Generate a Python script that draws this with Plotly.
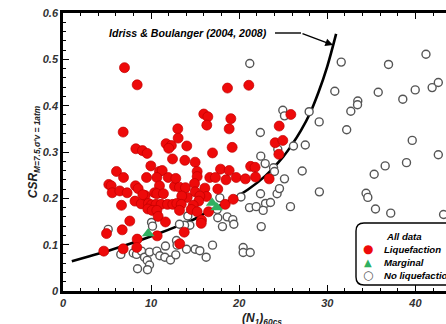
import plotly.graph_objects as go

# ---------------- data ----------------
liq_x = [6.98, 8.42, 6.83, 8.27, 9.02, 9.55, 11.7, 12.3, 12.0, 13.03, 13.07, 12.43, 9.97, 6.07, 10.95, 11.26,
         18.67, 21.09, 15.98, 16.44, 16.32, 19.05, 18.86, 14.05, 19.2, 16.97, 13.83, 15.0, 15.23, 17.88, 18.86,
         21.3, 21.8, 25.86, 24.54, 24.08, 24.95, 24.5,
         6.87, 5.2, 5.47, 5.58, 6.45, 7.28, 8.23, 8.53, 8.17, 8.88, 9.33, 9.06, 9.48, 10.65, 11.94, 12.66, 10.95,
         10.39, 10.65, 11.4, 9.7, 10.05, 9.63, 10.57, 11.14, 11.86, 12.46, 10.12, 10.65, 10.8, 6.64, 7.58, 11.63,
         4.94, 6.72, 8.42, 10.69, 4.63, 6.83, 8.38,
         12.8, 15.23, 16.66, 17.3, 18.5, 19.66, 20.7, 21.85, 23.4, 13.22, 13.9, 14.93, 16.1, 17.57, 15.0, 16.29,
         15.53, 14.1, 13.48, 15.41, 12.92, 13.42, 14.78, 14.55, 15.23, 13.22, 16.52, 15.72, 15.69, 18.41, 19.32,
         13.76, 13.25]
liq_y = [0.482, 0.445, 0.343, 0.307, 0.303, 0.297, 0.318, 0.314, 0.308, 0.350, 0.330, 0.285, 0.270, 0.258, 0.258, 0.260,
         0.438, 0.444, 0.382, 0.376, 0.358, 0.372, 0.350, 0.313, 0.310, 0.298, 0.282, 0.278, 0.258, 0.263, 0.260,
         0.269, 0.267, 0.381, 0.356, 0.320, 0.325, 0.295,
         0.245, 0.230, 0.227, 0.212, 0.216, 0.212, 0.227, 0.221, 0.194, 0.188, 0.206, 0.208, 0.245, 0.245, 0.245, 0.226, 0.227,
         0.212, 0.210, 0.210, 0.189, 0.186, 0.177, 0.187, 0.187, 0.187, 0.187, 0.174, 0.174, 0.161, 0.185, 0.151, 0.149,
         0.124, 0.132, 0.112, 0.119, 0.086, 0.091, 0.094,
         0.243, 0.247, 0.245, 0.245, 0.240, 0.245, 0.242, 0.246, 0.242, 0.224, 0.223, 0.232, 0.222, 0.220, 0.214, 0.204,
         0.205, 0.202, 0.205, 0.194, 0.189, 0.187, 0.185, 0.176, 0.171, 0.174, 0.171, 0.153, 0.146, 0.187, 0.198,
         0.127, 0.102]

marg_x = [9.67, 16.93, 17.46]
marg_y = [0.124, 0.190, 0.180]

noliq_x = [21.2, 22.4, 24.95, 25.14, 24.38, 22.45, 22.95, 23.9, 24.0, 27.94, 26.16, 27.5,
           31.58, 36.95, 41.2, 30.85, 35.78, 33.46, 33.43, 32.67, 38.57, 39.98, 41.9, 42.6, 29.08, 32.2, 39.64,
           42.6, 27.15, 36.57, 38.99, 35.32, 29.1, 34.4, 34.6, 35.47, 37.2, 43.2,
           10.05, 10.16, 5.13, 6.56, 7.97, 8.34, 8.91, 9.25, 9.82, 10.65, 11.63, 10.99, 11.56, 12.2, 12.88, 12.8,
           9.56, 9.82, 8.46, 9.59,
           17.8, 17.5, 17.57, 18.64, 19.27, 19.39, 18.1, 20.2, 22.42, 22.99, 23.55, 21.17, 21.93, 22.72, 24.3, 24.57,
           22.5, 25.82, 25.14, 14.17, 14.4, 13.8, 13.22, 16.97, 15.0, 15.53, 16.25, 14.02, 12.95, 20.45, 20.45, 21.25]
noliq_y = [0.491, 0.342, 0.390, 0.378, 0.306, 0.291, 0.275, 0.266, 0.258, 0.387, 0.313, 0.315,
           0.494, 0.489, 0.511, 0.431, 0.429, 0.410, 0.402, 0.388, 0.414, 0.434, 0.439, 0.450, 0.365, 0.348, 0.325,
           0.294, 0.259, 0.270, 0.277, 0.252, 0.214, 0.211, 0.202, 0.177, 0.168, 0.165,
           0.148, 0.140, 0.133, 0.079, 0.082, 0.079, 0.086, 0.073, 0.084, 0.086, 0.097, 0.076, 0.073, 0.067, 0.109, 0.078,
           0.066, 0.056, 0.048, 0.046,
           0.201, 0.176, 0.158, 0.160, 0.154, 0.144, 0.139, 0.203, 0.210, 0.189, 0.191, 0.180, 0.182, 0.174, 0.210, 0.221,
           0.139, 0.182, 0.242, 0.162, 0.142, 0.142, 0.144, 0.099, 0.090, 0.087, 0.073, 0.090, 0.099, 0.094, 0.083, 0.083]

curve_n = [1, 3, 5, 7, 9, 11, 13, 15, 17, 19, 21, 23, 25, 26, 27, 28, 29, 30, 31]
curve_csr = [0.064, 0.075, 0.086, 0.098, 0.111, 0.125, 0.140, 0.156, 0.177, 0.196, 0.219, 0.249, 0.290,
             0.316, 0.346, 0.382, 0.429, 0.485, 0.555]

x_ticks = [0, 10, 20, 30, 40]
y_ticks = [0, 0.1, 0.2, 0.3, 0.4, 0.5, 0.6]
y_tick_text = ["0", "0.1", "0.2", "0.3", "0.4", "0.5", "0.6"]

# ---------------- figure ----------------
W, H = 446, 324
L, R, T, B = 63, 0, 13, 33
FONT = "Liberation Sans, Arial, sans-serif"
pw, ph = W - L - R, H - T - B


def fx(px):
    return (px - L) / pw


def fy(py):
    return (H - B - py) / ph


fig = go.Figure()
fig.add_trace(go.Scatter(x=curve_n, y=curve_csr, mode="lines", line=dict(color="black", width=2.6, shape="spline"),
                         hoverinfo="skip", showlegend=False))
fig.add_trace(go.Scatter(x=noliq_x, y=noliq_y, mode="markers", name="No liquefaction",
                         marker=dict(symbol="circle", size=8, color="white", line=dict(color="#555555", width=1.4))))
fig.add_trace(go.Scatter(x=liq_x, y=liq_y, mode="markers", name="Liquefaction",
                         marker=dict(symbol="circle", size=10, color="#ee0a0a", line=dict(color="#c00000", width=0.7))))
fig.add_trace(go.Scatter(x=marg_x, y=marg_y, mode="markers", name="Marginal",
                         marker=dict(symbol="triangle-up", size=11, color="#2fb060", line=dict(width=0))))

tickfont = dict(family=FONT, size=11, color="#333333", weight="bold", style="italic")
axis_common = dict(showline=True, linecolor="black", linewidth=2.6, ticks="inside", tickcolor="black",
                   tickwidth=1.3, ticklen=6, showgrid=False, zeroline=False, tickfont=tickfont)

fig.update_xaxes(range=[0, (W - L) / 8.81], tickvals=x_ticks, mirror="ticks",
                 minor=dict(dtick=2, ticks="inside", ticklen=3, tickcolor="black", tickwidth=1.1, tick0=0),
                 **axis_common)
fig.update_yaxes(range=[0, 0.6], tickvals=y_ticks, ticktext=y_tick_text, mirror=False,
                 minor=dict(dtick=0.02, ticks="inside", ticklen=3, tickcolor="black", tickwidth=1.1, tick0=0),
                 title=dict(text="<b><i>CSR<sub>M=7.5,σ'v = 1atm</sub></i></b>", standoff=3,
                            font=dict(family=FONT, size=12, color="#222222")),
                 **axis_common)

afont = dict(family=FONT, size=10.6, color="black", weight="bold", style="italic")
lfont = dict(family=FONT, size=9.6, color="black", weight="bold", style="italic")
annotations = [
    dict(text="<b><i>(N<sub>1</sub>)<sub>60cs</sub></i></b>", xref="paper", yref="paper", x=fx(262), y=fy(319),
         showarrow=False, xanchor="center", yanchor="middle", font=dict(family=FONT, size=12, color="#222222")),
    dict(text="Idriss & Boulanger (2004, 2008)", xref="paper", yref="paper", x=fx(107), y=fy(33),
         showarrow=False, xanchor="left", yanchor="middle", font=afont),
    dict(text="", xref="paper", yref="paper", x=fx(333), y=fy(45), axref="pixel", ayref="pixel",
         ax=-(333 - 301), ay=-(45 - 33), showarrow=True, arrowhead=2, arrowsize=1.1, arrowwidth=1.4,
         arrowcolor="black", standoff=0),
    # legend
    dict(text="All data", xref="paper", yref="paper", x=fx(404), y=fy(236), showarrow=False,
         xanchor="center", yanchor="middle", font=lfont),
    dict(text="Liquefaction", xref="paper", yref="paper", x=fx(382), y=fy(249), showarrow=False,
         xanchor="left", yanchor="middle", font=lfont),
    dict(text="Marginal", xref="paper", yref="paper", x=fx(382), y=fy(262), showarrow=False,
         xanchor="left", yanchor="middle", font=lfont),
    dict(text="No liquefaction", xref="paper", yref="paper", x=fx(382), y=fy(275), showarrow=False,
         xanchor="left", yanchor="middle", font=lfont),
    dict(text="●", xref="paper", yref="paper", x=fx(368), y=fy(249), showarrow=False,
         xanchor="center", yanchor="middle", font=dict(family="DejaVu Sans", size=12, color="#ee0a0a")),
    dict(text="▲", xref="paper", yref="paper", x=fx(368), y=fy(262), showarrow=False,
         xanchor="center", yanchor="middle", font=dict(family="DejaVu Sans", size=10, color="#2fb060")),
    dict(text="○", xref="paper", yref="paper", x=fx(368), y=fy(275), showarrow=False,
         xanchor="center", yanchor="middle", font=dict(family="DejaVu Sans", size=12, color="#555555")),
]

# rounded legend box + bent leader line
x0, x1, y0, y1, r = 356, 470, 223, 285, 8
path = (f"M {fx(x0 + r)},{fy(y0)} L {fx(x1)},{fy(y0)} L {fx(x1)},{fy(y1)} L {fx(x0 + r)},{fy(y1)} "
        f"Q {fx(x0)},{fy(y1)} {fx(x0)},{fy(y1 - r)} L {fx(x0)},{fy(y0 + r)} "
        f"Q {fx(x0)},{fy(y0)} {fx(x0 + r)},{fy(y0)} Z")
shapes = [
    dict(type="path", path=path, xref="paper", yref="paper", line=dict(color="black", width=1.4),
         fillcolor="white", layer="above"),
    dict(type="line", xref="paper", yref="paper", x0=fx(275), x1=fx(301), y0=fy(33), y1=fy(33),
         line=dict(color="black", width=1.4)),
]

fig.update_layout(width=W, height=H, margin=dict(l=L, r=R, t=T, b=B, autoexpand=False),
                  plot_bgcolor="white", paper_bgcolor="white", showlegend=False,
                  annotations=annotations, shapes=shapes)

fig.write_html("out.html")
